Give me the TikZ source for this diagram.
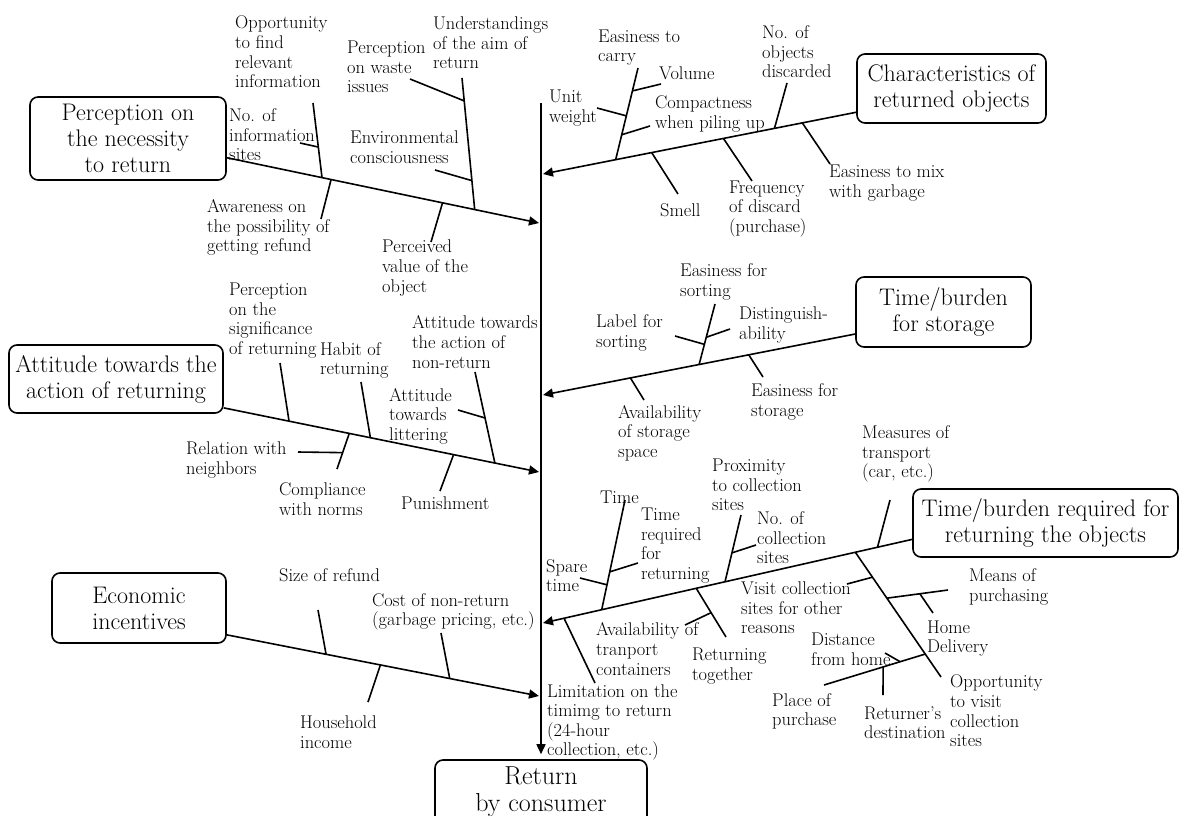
\documentclass[tikz,border=0pt]{standalone}
\usepackage{fontspec}
\usetikzlibrary{arrows.meta,calc}
\newcommand\labfont{\fontsize{18.4}{19.6}\selectfont}
\newcommand\boxfont{\fontsize{24}{26}\selectfont}
\newcommand\retfont{\fontsize{26}{27}\selectfont}
\tikzset{
  bone/.style={line width=1.6pt},
  arr/.style={-{Triangle[length=10pt,width=9pt]}},
  cat/.style={draw, line width=1.6pt, rounded corners=8pt, align=center, font=\boxfont, inner sep=0pt},
  lab/.style={anchor=west, align=left, inner sep=0pt, font=\labfont},
}
\begin{document}
\begin{tikzpicture}[x=1pt,y=-1pt]
\useasboundingbox (0,0) rectangle (1179,815);
% category boxes
\node[cat, minimum width=196pt, minimum height=83pt] (b1) at (128,138.5) {Perception on\\the necessity\\to return};
\node[cat, minimum width=189pt, minimum height=69pt] (b2) at (951.5,88.5) {Characteristics of\\returned objects};
\node[cat, minimum width=175pt, minimum height=70pt] (b3) at (943.5,312) {Time/burden\\for storage};
\node[cat, minimum width=214pt, minimum height=68pt] (b4) at (116,379) {Attitude towards the\\action of returning};
\node[cat, minimum width=265pt, minimum height=68pt] (b5) at (1045.5,523) {Time/burden required for\\returning the objects};
\node[cat, minimum width=174pt, minimum height=70pt] (b6) at (139,608) {Economic\\incentives};
\node[cat, font=\retfont, minimum width=212pt, minimum height=64pt] (b7) at (541,792) {Return\\by consumer};
% spine
\coordinate (top) at (541,103);
\draw[bone,arr,shorten >=5pt] (top) -- (b7);
% arrow tips on the spine
\coordinate (t1) at (539,223);
\coordinate (t2) at (543,174);
\coordinate (t3) at (543,395);
\coordinate (t4) at (539,472);
\coordinate (t5) at (543,623);
\coordinate (t6) at (539,696);
% ---------- branch 1
\draw[bone,arr] (b1.-11.8) -- (t1) coordinate[pos=.305] (p1a) coordinate[pos=.334] (p1b)
  coordinate[pos=.794] (p1c) coordinate[pos=.691] (p1d);
\coordinate (e1a) at (313,103); \coordinate (f1a) at (300,143);
\coordinate (e1b) at (321,219);
\coordinate (e1c) at (462,78); \coordinate (f1c1) at (410,79); \coordinate (f1c2) at (435,170);
\coordinate (e1d) at (431,242);
\draw[bone] (p1a) -- (e1a) coordinate[pos=.41] (q1a);
\draw[bone] (f1a) -- (q1a);
\draw[bone] (p1b) -- (e1b);
\draw[bone] (p1c) -- (e1c) coordinate[pos=.826] (q1c1) coordinate[pos=.22] (q1c2);
\draw[bone] (f1c1) -- (q1c1);
\draw[bone] (f1c2) -- (q1c2);
\draw[bone] (p1d) -- (e1d);
\node[lab] (l1a) at (235,52) {Opportunity\\to find\\relevant\\information};
\node[lab] (l1b) at (229,135) {No. of\\information\\sites};
\node[lab] (l1c) at (207,227.5) {Awareness on\\the possibility of\\getting refund};
\node[lab] (l1d) at (347,67) {Perception\\on waste\\issues};
\node[lab] (l1e) at (433,43) {Understandings\\of the aim of\\return};
\node[lab] (l1f) at (350,147) {Environmental\\consciousness};
\node[lab] (l1g) at (382,268) {Perceived\\value of the\\object};
% ---------- branch 2
\draw[bone,arr] (b2.194.5) -- (t2) coordinate[pos=.768] (p2a) coordinate[pos=.653] (p2b)
  coordinate[pos=.424] (p2c) coordinate[pos=.261] (p2d) coordinate[pos=.172] (p2e);
\coordinate (e2a) at (638,68); \coordinate (f2a1) at (661,84); \coordinate (f2a2) at (597,108); \coordinate (f2a3) at (650,126);
\coordinate (e2b) at (678,194);
\coordinate (e2c) at (752,181);
\coordinate (e2d) at (787,83);
\coordinate (e2e) at (830,164);
\draw[bone] (p2a) -- (e2a) coordinate[pos=.75] (q2a1) coordinate[pos=.478] (q2a2) coordinate[pos=.272] (q2a3);
\draw[bone] (f2a1) -- (q2a1);
\draw[bone] (f2a2) -- (q2a2);
\draw[bone] (f2a3) -- (q2a3);
\draw[bone] (p2b) -- (e2b);
\draw[bone] (p2c) -- (e2c);
\draw[bone] (p2d) -- (e2d);
\draw[bone] (p2e) -- (e2e);
\node[lab] (l2a) at (598,47.5) {Easiness to\\carry};
\node[lab] (l2b) at (659,73) {Volume};
\node[lab] (l2c) at (549,108) {Unit\\weight};
\node[lab] (l2d) at (655,114) {Compactness\\when piling up};
\node[lab] (l2e) at (660,210) {Smell};
\node[lab] (l2f) at (729,209) {Frequency\\of discard\\(purchase)};
\node[lab] (l2g) at (762,52) {No. of\\objects\\discarded};
\node[lab] (l2h) at (829,183) {Easiness to mix\\with garbage};
% ---------- branch 3
\draw[bone,arr] (b3.194.1) -- (t3) coordinate[pos=.5] (p3a) coordinate[pos=.341] (p3b) coordinate[pos=.72] (p3c);
\coordinate (e3a) at (715,304); \coordinate (f3a1) at (730,329); \coordinate (f3a2) at (675,336);
\coordinate (e3b) at (763,377);
\coordinate (e3c) at (644,400);
\draw[bone] (p3a) -- (e3a) coordinate[pos=.45] (q3a1) coordinate[pos=.333] (q3a2);
\draw[bone] (f3a1) -- (q3a1);
\draw[bone] (f3a2) -- (q3a2);
\draw[bone] (p3b) -- (e3b);
\draw[bone] (p3c) -- (e3c);
\node[lab] (l3a) at (680,282) {Easiness for\\sorting};
\node[lab] (l3b) at (739,325) {Distinguish-\\ability};
\node[lab] (l3c) at (596,333) {Label for\\sorting};
\node[lab] (l3d) at (751,402) {Easiness for\\storage};
\node[lab] (l3e) at (618,433) {Availability\\of storage\\space};
% ---------- branch 4
\draw[bone,arr] (b4.-15.2) -- (t4) coordinate[pos=.207] (p4a) coordinate[pos=.465] (p4b)
  coordinate[pos=.398] (p4c) coordinate[pos=.86] (p4d) coordinate[pos=.729] (p4e);
\coordinate (e4a) at (280,363);
\coordinate (e4b) at (361,382);
\coordinate (e4c) at (337,469); \coordinate (f4c) at (298,452);
\coordinate (e4d) at (475,372); \coordinate (f4d) at (458,410);
\coordinate (e4e) at (440,491);
\draw[bone] (p4a) -- (e4a);
\draw[bone] (p4b) -- (e4b);
\draw[bone] (p4c) -- (e4c) coordinate[pos=.54] (q4c);
\draw[bone] (f4c) -- (q4c);
\draw[bone] (p4d) -- (e4d) coordinate[pos=.495] (q4d);
\draw[bone] (f4d) -- (q4d);
\draw[bone] (p4e) -- (e4e);
\node[lab] (l4a) at (229,320.5) {Perception\\on the\\significance\\of returning};
\node[lab] (l4b) at (320,360.5) {Habit of\\returning};
\node[lab] (l4c) at (412,342) {Attitude towards\\the action of\\non-return};
\node[lab] (l4d) at (389,416) {Attitude\\towards\\littering};
\node[lab] (l4e) at (186,460) {Relation with\\neighbors};
\node[lab] (l4f) at (279,499) {Compliance\\with norms};
\node[lab] (l4g) at (401,503) {Punishment};
% ---------- branch 5
\draw[bone,arr] (b5.187.3) -- (t5) coordinate[pos=.841] (p5a) coordinate[pos=.507] (p5b)
  coordinate[pos=.943] (p5c) coordinate[pos=.585] (p5d) coordinate[pos=.094] (p5e) coordinate[pos=.154] (p5f);
\coordinate (e5a) at (625,500); \coordinate (f5a1) at (638,563); \coordinate (f5a2) at (580,578);
\coordinate (e5b) at (741,515); \coordinate (f5b) at (756,545);
\coordinate (e5c) at (595,683);
\coordinate (e5d) at (726,637); \coordinate (f5d) at (685,625);
\coordinate (e5e) at (890,500);
\coordinate (e5f) at (941,677); \coordinate (f5f1) at (847,584);
\coordinate (m5) at (948,590); \coordinate (h5) at (933,613);
\coordinate (pl5) at (824,685); \coordinate (d5) at (885,653); \coordinate (r5) at (883,695);
\draw[bone] (p5a) -- (e5a) coordinate[pos=.345] (q5a1) coordinate[pos=.227] (q5a2);
\draw[bone] (f5a1) -- (q5a1);
\draw[bone] (f5a2) -- (q5a2);
\draw[bone] (p5b) -- (e5b) coordinate[pos=.433] (q5b);
\draw[bone] (f5b) -- (q5b);
\draw[bone] (p5c) -- (e5c);
\draw[bone] (p5d) -- (e5d) coordinate[pos=.5] (q5d);
\draw[bone] (f5d) -- (q5d);
\draw[bone] (p5e) -- (e5e);
\draw[bone] (p5f) -- (e5f) coordinate[pos=.2] (q5f1) coordinate[pos=.368] (q5f2) coordinate[pos=.816] (q5f3);
\draw[bone] (f5f1) -- (q5f1);
\draw[bone] (q5f2) -- (m5) coordinate[pos=.54] (qm5);
\draw[bone] (qm5) -- (h5);
\draw[bone] (q5f3) -- (pl5) coordinate[pos=.248] (qd5) coordinate[pos=.416] (qr5);
\draw[bone] (d5) -- (qd5);
\draw[bone] (qr5) -- (r5);
\node[lab] (l5a) at (600,497) {Time};
\node[lab] (l5b) at (641,545.5) {Time\\required\\for\\returning};
\node[lab] (l5c) at (546,575.5) {Spare\\time};
\node[lab] (l5d) at (712,485) {Proximity\\to collection\\sites};
\node[lab] (l5e) at (757,538) {No. of\\collection\\sites};
\node[lab] (l5f) at (862,454) {Measures of\\transport\\(car, etc.)};
\node[lab] (l5g) at (741,608) {Visit collection\\sites for other\\reasons};
\node[lab] (l5h) at (969,587) {Means of\\purchasing};
\node[lab] (l5i) at (927,638.5) {Home\\Delivery};
\node[lab] (l5j) at (596,649) {Availability of\\tranport\\containers};
\node[lab] (l5k) at (692,666) {Returning\\together};
\node[lab] (l5l) at (811,649.5) {Distance\\from home};
\node[lab] (l5m) at (772,711.5) {Place of\\purchase};
\node[lab] (l5n) at (864,722.5) {Returner's\\destination};
\node[lab] (l5o) at (950,711) {Opportunity\\to visit\\collection\\sites};
\node[lab] (l5p) at (547,722.5) {Limitation on the\\timimg to return\\(24-hour\\collection, etc.)};
% ---------- branch 6
\draw[bone,arr] (b6.-17.2) -- (t6) coordinate[pos=.318] (p6a) coordinate[pos=.714] (p6b) coordinate[pos=.492] (p6c);
\coordinate (e6a) at (318,610);
\coordinate (e6b) at (441,633);
\coordinate (e6c) at (368,702);
\draw[bone] (p6a) -- (e6a);
\draw[bone] (p6b) -- (e6b);
\draw[bone] (p6c) -- (e6c);
\node[lab] (l6a) at (279,575) {Size of refund};
\node[lab] (l6b) at (372,612) {Cost of non-return\\(garbage pricing, etc.)};
\node[lab] (l6c) at (300,732) {Household\\income};
\end{tikzpicture}
\end{document}
